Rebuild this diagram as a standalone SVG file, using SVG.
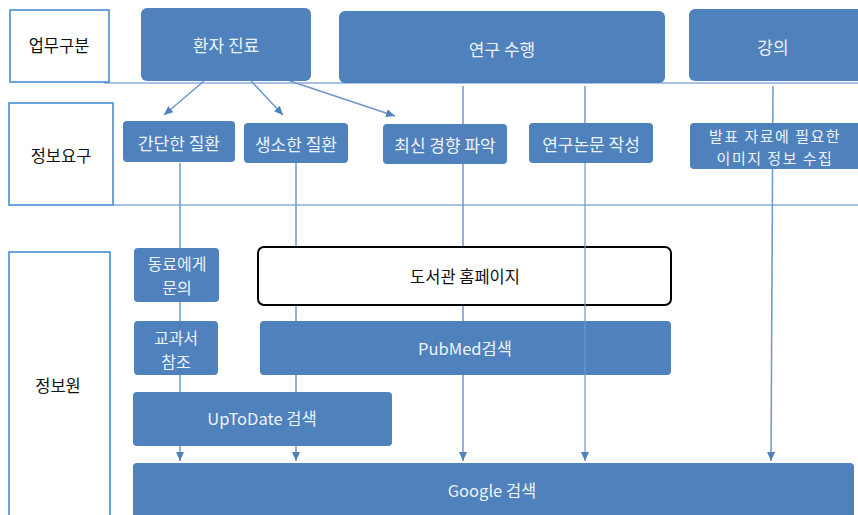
<svg xmlns="http://www.w3.org/2000/svg" width="858" height="515" viewBox="0 0 858 515">
<style>
text{font-family:"Noto Sans CJK KR","Noto Sans",sans-serif;font-size:17px;text-anchor:middle;dominant-baseline:central}
.sm{font-size:16px}
.lat{font-size:16.5px}
.lbl{fill:#ffffff;stroke:#3a87d0;stroke-width:1.5}
.lt{fill:#111;font-size:16.5px}
.box{fill:#4f81bd}
.bt{fill:#eef3fa}
.sep{stroke:#a9c1e2;stroke-width:2;fill:none}
.con{stroke:#6f97cc;stroke-width:1.5;fill:none}
</style>
<defs>
<marker id="ah" markerUnits="userSpaceOnUse" markerWidth="10" markerHeight="9" refX="9" refY="4" orient="auto">
<path d="M0,0 L9,4 L0,8 z" fill="#4f81bd"/>
</marker>
</defs>
<rect width="858" height="515" fill="#ffffff"/>
<g id="separators">
<line class="sep" x1="104" y1="83" x2="858" y2="83"/>
<line class="sep" x1="113" y1="205" x2="858" y2="205"/>
</g>
<g id="connectors">
<line class="con" x1="204" y1="81" x2="164" y2="115" marker-end="url(#ah)"/>
<line class="con" x1="251" y1="81" x2="283" y2="115" marker-end="url(#ah)"/>
<line class="con" x1="290" y1="81" x2="395" y2="116" marker-end="url(#ah)"/>
<line class="con" x1="180" y1="163" x2="180" y2="461" marker-end="url(#ah)"/>
<line class="con" x1="296" y1="163" x2="296" y2="461" marker-end="url(#ah)"/>
<line class="con" x1="463" y1="86" x2="463" y2="461" marker-end="url(#ah)"/>
<line class="con" x1="773" y1="86" x2="771" y2="461" marker-end="url(#ah)"/>
</g>
<g id="lbl-work"><rect class="lbl" x="10" y="10" width="99" height="72"/><text class="lt" x="59" y="45">업무구분</text></g>
<g id="lbl-need"><rect class="lbl" x="9" y="103" width="104" height="102"/><text class="lt" x="61" y="155">정보요구</text></g>
<g id="lbl-source"><rect class="lbl" x="9" y="252" width="101" height="270"/><text class="lt" x="58" y="385">정보원</text></g>
<g id="n-patient"><rect class="box" x="141" y="8" width="170" height="73" rx="6"/><text class="bt" x="226" y="44">환자 진료</text></g>
<g id="n-research"><rect class="box" x="339" y="11" width="326" height="72" rx="6"/><text class="bt" x="502" y="48">연구 수행</text></g>
<g id="n-lecture"><rect class="box" x="689" y="9" width="175" height="72" rx="6"/><text class="bt" x="773" y="46">강의</text></g>
<g id="n-simple"><rect class="box" x="123" y="121" width="112" height="41" rx="4"/><text class="bt" x="179" y="142">간단한 질환</text></g>
<g id="n-rare"><rect class="box" x="244" y="123" width="104" height="40" rx="4"/><text class="bt" x="296" y="143">생소한 질환</text></g>
<g id="n-trend"><rect class="box" x="383" y="124" width="124" height="40" rx="4"/><text class="bt" x="445" y="144">최신 경향 파악</text></g>
<g id="n-paper"><rect class="box" x="529" y="123" width="124" height="40" rx="4"/><text class="bt" x="591" y="143">연구논문 작성</text></g>
<g id="n-image"><rect class="box" x="690" y="123" width="172" height="46" rx="4"/><text class="bt" x="775" y="135" style="font-size:15px;letter-spacing:1.5px"><tspan x="775" y="135">발표 자료에 필요한</tspan><tspan x="775" y="157">이미지 정보 수집</tspan></text></g>
<g id="n-colleague"><rect class="box" x="134" y="248" width="85" height="54" rx="4"/><text class="bt sm" x="177" y="263"><tspan x="177" y="263">동료에게</tspan><tspan x="177" y="287">문의</tspan></text></g>
<g id="n-library"><rect x="258" y="247" width="413" height="58" rx="6" fill="#ffffff" stroke="#000" stroke-width="2"/><text class="lt" x="465" y="276">도서관 홈페이지</text></g>
<g id="n-textbook"><rect class="box" x="134" y="321" width="84" height="54" rx="4"/><text class="bt sm" x="176" y="337"><tspan x="176" y="337">교과서</tspan><tspan x="176" y="361">참조</tspan></text></g>
<g id="n-pubmed"><rect class="box" x="260" y="321" width="411" height="54" rx="4"/><text class="bt lat" x="465" y="348">PubMed검색</text></g>
<g id="n-uptodate"><rect class="box" x="133" y="392" width="259" height="54" rx="4"/><text class="bt lat" x="262" y="418">UpToDate 검색</text></g>
<g id="n-google"><rect class="box" x="133" y="463" width="721" height="60" rx="4"/><text class="bt lat" x="492" y="490">Google 검색</text></g>
<g id="connectors-over">
<line class="con" x1="585" y1="86" x2="585" y2="123"/>
<line class="con" x1="585" y1="163" x2="585" y2="461" marker-end="url(#ah)" stroke-opacity="0.8"/>
</g>
</svg>
